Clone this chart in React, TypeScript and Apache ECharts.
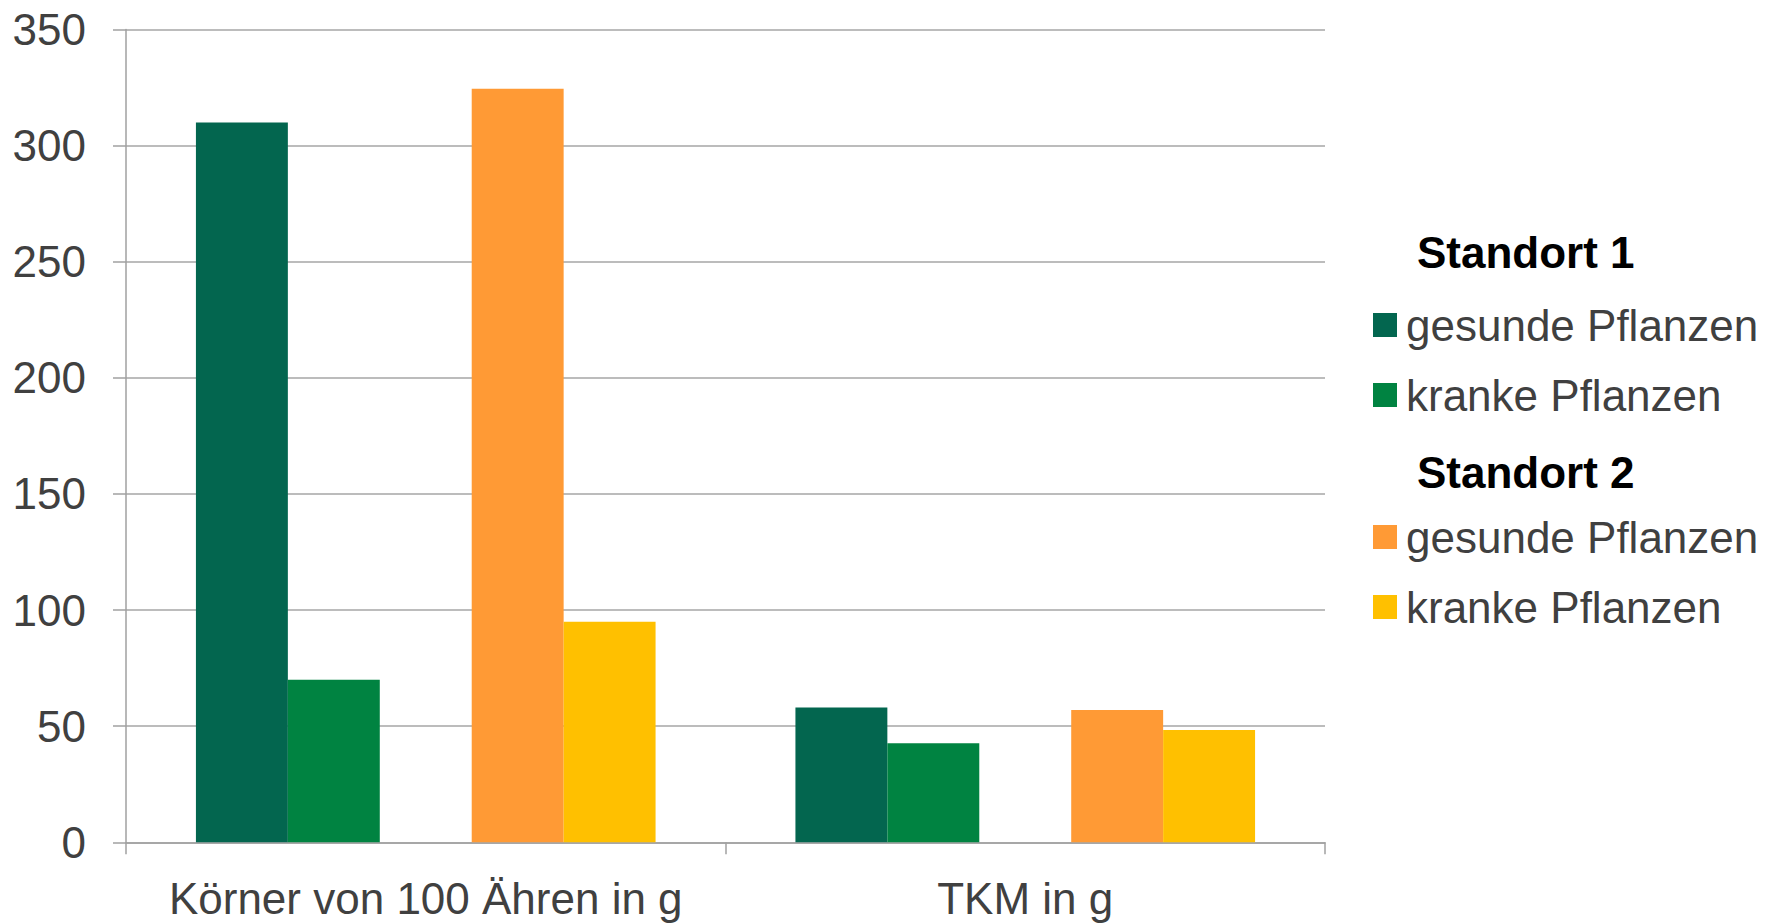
import React, { useEffect, useRef } from "react";
import * as echarts from "echarts";

// Categories on the x axis
const categories = ["Körner von 100 Ähren in g", "TKM in g"];

// Values per site and plant condition
const standort1Gesund = [310, 58];
const standort1Krank = [70, 42.6];
const standort2Gesund = [324.5, 57];
const standort2Krank = [95, 48.4];

// Y axis ticks
const yMin = 0;
const yMax = 350;
const yStep = 50;

const legendHeadings = ["Standort 1", "Standort 2"];
const seriesLabels = ["gesunde Pflanzen", "kranke Pflanzen"];

const colors = {
  s1Gesund: "#03664f",
  s1Krank: "#008341",
  s2Gesund: "#ff9a35",
  s2Krank: "#ffc000",
};

const FONT = "'Liberation Sans', Arial, Helvetica, sans-serif";
const SEP = " · ";

export default function App() {
  const ref = useRef<HTMLDivElement>(null);

  useEffect(() => {
    if (!ref.current) return;
    const chart = echarts.init(ref.current, undefined, { renderer: "svg" });

    const name = (h: string, l: string) => `${h}${SEP}${l}`;
    const barSeries = (n: string, data: (number | null)[], color: string) => ({
      type: "bar" as const,
      name: n,
      data,
      itemStyle: { color },
      barGap: "0%",
      barCategoryGap: "23.33%",
    });

    const legendBlock = (heading: string, top: number) => ({
      orient: "vertical" as const,
      left: 1373,
      top,
      padding: 0,
      itemWidth: 24,
      itemHeight: 24,
      itemGap: 24,
      icon: "rect",
      selectedMode: false,
      data: seriesLabels.map((l) => name(heading, l)),
      formatter: (n: string) => n.split(SEP)[1],
      textStyle: {
        color: "#404040",
        fontSize: 44,
        lineHeight: 46,
        fontFamily: FONT,
        padding: [0, 0, 0, 4],
      },
    });

    const headingText = (text: string, top: number) => ({
      type: "text" as const,
      left: 1417,
      top,
      style: {
        text,
        fontSize: 44,
        fontWeight: "bold",
        fontFamily: FONT,
        fill: "#000000",
      },
    });

    chart.setOption({
      animation: false,
      backgroundColor: "#ffffff",
      textStyle: { fontFamily: FONT },
      grid: { left: 126, right: 454, top: 29.5, bottom: 81.7, containLabel: false },
      xAxis: {
        type: "category",
        data: categories,
        axisLine: { show: true, lineStyle: { color: "#a0a0a0", width: 1.5 } },
        axisTick: { show: true, length: 12, lineStyle: { color: "#a0a0a0", width: 1.5 } },
        axisLabel: {
          interval: 0,
          color: "#404040",
          fontSize: 44,
          lineHeight: 44,
          fontFamily: FONT,
          margin: 34,
        },
      },
      yAxis: {
        type: "value",
        min: yMin,
        max: yMax,
        interval: yStep,
        axisLine: { show: true, lineStyle: { color: "#a0a0a0", width: 1.5 } },
        axisTick: { show: true, length: 13, lineStyle: { color: "#a0a0a0", width: 1.5 } },
        splitLine: { show: true, lineStyle: { color: "#a6a6a6", width: 1.5 } },
        axisLabel: { color: "#404040", fontSize: 44, fontFamily: FONT, margin: 40 },
      },
      legend: [legendBlock(legendHeadings[0], 302), legendBlock(legendHeadings[1], 514)],
      graphic: [headingText(legendHeadings[0], 230), headingText(legendHeadings[1], 450)],
      series: [
        barSeries(name(legendHeadings[0], seriesLabels[0]), standort1Gesund, colors.s1Gesund),
        barSeries(name(legendHeadings[0], seriesLabels[1]), standort1Krank, colors.s1Krank),
        // empty slot separating the two sites within each category
        { ...barSeries("", categories.map(() => null), "transparent"), silent: true },
        barSeries(name(legendHeadings[1], seriesLabels[0]), standort2Gesund, colors.s2Gesund),
        barSeries(name(legendHeadings[1], seriesLabels[1]), standort2Krank, colors.s2Krank),
      ],
    });

    return () => chart.dispose();
  }, []);

  return (
    <div
      ref={ref}
      style={{ position: "fixed", left: 0, top: 0, width: 1779, height: 924, background: "#fff" }}
    />
  );
}
